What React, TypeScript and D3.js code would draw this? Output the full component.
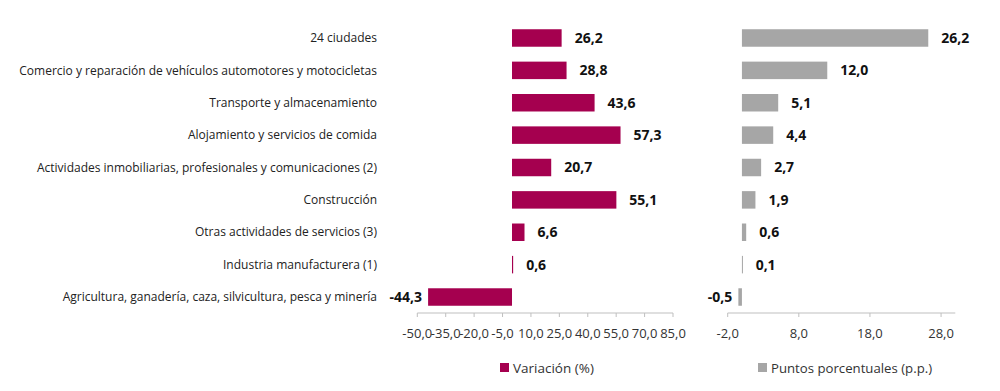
import React from "react";
import * as d3 from "d3";

const categories = [
  "24 ciudades",
  "Comercio y reparación de vehículos automotores y motocicletas",
  "Transporte y almacenamiento",
  "Alojamiento y servicios de comida",
  "Actividades inmobiliarias, profesionales y comunicaciones (2)",
  "Construcción",
  "Otras actividades de servicios (3)",
  "Industria manufacturera (1)",
  "Agricultura, ganadería, caza, silvicultura, pesca y minería",
];
const variacion = [26.2, 28.8, 43.6, 57.3, 20.7, 55.1, 6.6, 0.6, -44.3];
const puntos = [26.2, 12.0, 5.1, 4.4, 2.7, 1.9, 0.6, 0.1, -0.5];
const leftTicks = [-50, -35, -20, -5, 10, 25, 40, 55, 70, 85];
const rightTicks = [-2, 8, 18, 28];
const seriesNames = ["Variación (%)", "Puntos porcentuales (p.p.)"];

const fmt = (v: number) => v.toFixed(1).replace(".", ",");
const FONT = "'Open Sans', 'Noto Sans', sans-serif";

export default function App() {
  const W = 1000, H = 391;
  const y = d3.scaleBand<string>().domain(categories).range([21.8, 313.2]).paddingInner(0.46).paddingOuter(0.23);
  const xL = d3.scaleLinear().domain([-50, 85]).range([417.3, 673]);
  const xR = d3.scaleLinear().domain([-2, 30]).range([727.7, 955.3]);
  const axisY = 313;
  const bh = y.bandwidth();

  const panel = (x: d3.ScaleLinear<number, number>, vals: number[], ticks: number[], color: string, key: string) => (
    <g key={key}>
      {vals.map((v, i) => {
        const x0 = x(0), x1 = x(v);
        const yy = y(categories[i])!;
        return (
          <g key={i}>
            <rect x={Math.min(x0, x1)} y={yy} width={Math.max(Math.abs(x1 - x0), 1)} height={bh} fill={color} />
            <text
              x={v >= 0 ? x1 + 13 : x1 - 6}
              y={yy + bh / 2}
              dy="0.35em"
              textAnchor={v >= 0 ? "start" : "end"}
              fontFamily={FONT}
              fontWeight={700}
              fontSize={14}
              fill="#111"
            >
              {fmt(v)}
            </text>
          </g>
        );
      })}
      <line x1={x.range()[0]} x2={x.range()[1]} y1={axisY} y2={axisY} stroke="#bfbfbf" strokeWidth={1} />
      {ticks.map((t) => (
        <g key={t}>
          <line x1={x(t)} x2={x(t)} y1={axisY} y2={axisY + 4} stroke="#bfbfbf" />
          <text x={x(t)} y={333} dy="0.35em" textAnchor="middle" fontFamily={FONT} fontSize={13} fill="#333">
            {fmt(t)}
          </text>
        </g>
      ))}
    </g>
  );

  return (
    <svg width={W} height={H} style={{ position: "absolute", left: 0, top: 0, background: "#fff" }}>
      {categories.map((c, i) => (
        <text
          key={c}
          x={377}
          y={y(c)! + bh / 2}
          dy="0.35em"
          textAnchor="end"
          fontFamily={FONT}
          fontSize={12}
          fill="#222"
        >
          {c}
        </text>
      ))}
      {panel(xL, variacion, leftTicks, "#a5004f", "L")}
      {panel(xR, puntos, rightTicks, "#a6a6a6", "R")}
      <rect x={500} y={363} width={9} height={9} fill="#a5004f" />
      <text x={513} y={368} dy="0.35em" fontFamily={FONT} fontSize={13.5} fill="#333">{seriesNames[0]}</text>
      <rect x={758} y={363} width={9} height={9} fill="#a6a6a6" />
      <text x={771} y={368} dy="0.35em" fontFamily={FONT} fontSize={13.2} fill="#333">{seriesNames[1]}</text>
    </svg>
  );
}
